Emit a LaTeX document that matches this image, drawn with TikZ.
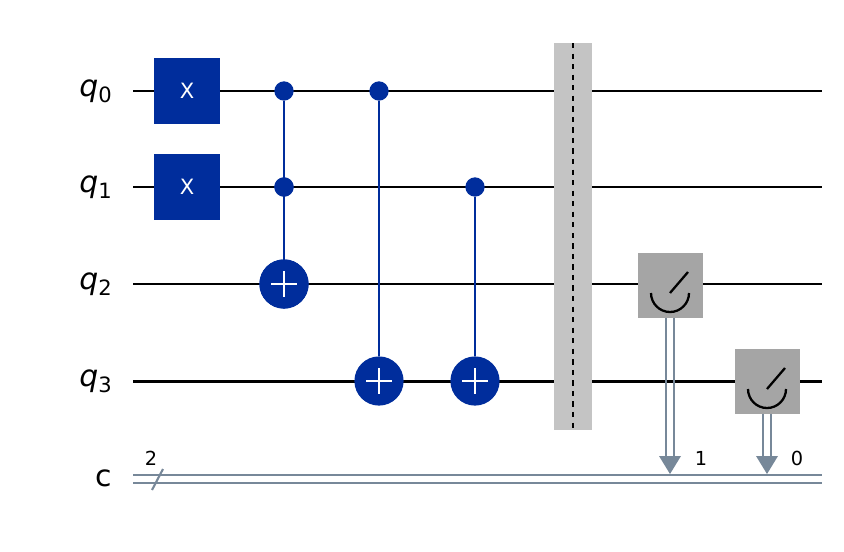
\documentclass[tikz,border=0pt]{standalone}
\usepackage{fontspec}
\setmainfont{DejaVu Sans}
\usetikzlibrary{arrows.meta}
\definecolor{gateblue}{HTML}{002D9C}
\definecolor{barriergray}{HTML}{C4C4C4}
\definecolor{metergray}{HTML}{A5A5A5}
\definecolor{cbitgray}{HTML}{778899}
\tikzset{
  wire/.style={line width=1.7pt},
  gate/.style={fill=gateblue, minimum size=37pt, inner sep=0pt, text=white, font=\fontsize{12}{12}\selectfont},
  ctrl/.style={circle, fill=gateblue, inner sep=0pt, minimum size=11pt},
  targ/.style={circle, fill=gateblue, inner sep=0pt, minimum size=28pt},
  link/.style={gateblue, line width=1.5pt},
  meter/.style={fill=metergray, minimum size=37pt, inner sep=0pt},
  lbl/.style={font=\fontsize{17}{17}\selectfont, anchor=east},
}
\newcommand{\plusmark}[1]{\draw[white, line width=1.5pt] ($(#1)+(-13,0)$) -- ($(#1)+(13,0)$) ($(#1)+(0,-13)$) -- ($(#1)+(0,13)$);}
\newcommand{\metermark}[1]{\draw[black, line width=1.3pt] ($(#1)+(-19,8)$) arc (180:0:19); \draw[black, line width=1.3pt] ($(#1)+(0,8)$) -- ($(#1)+(18,-13)$);}
\usetikzlibrary{calc}
\begin{document}
\begin{tikzpicture}[x=0.02cm, y=-0.02cm]
  \useasboundingbox (0,0) rectangle (844,551);
  % wires and labels
  \foreach \i/\y in {0/91, 1/187, 2/284, 3/381} {
    \node[lbl] at (118,\y) {\textit{q}\raisebox{-0.35ex}{\fontsize{12}{12}\selectfont\i}};
    \draw[wire] (133,\y) -- (822,\y);
  }
  \node[lbl] at (118,478) {c};
  \draw[cbitgray, line width=1.4pt] (133,475) -- (822,475) (133,483) -- (822,483);
  \draw[cbitgray, line width=1.2pt] (152,490) -- (163,469);
  \node[font=\fontsize{11}{11}\selectfont] at (151,458) {2};
  % barrier
  \fill[barriergray] (554,43) rectangle (592,430);
  \draw[dashed, line width=0.9pt] (573,43) -- (573,430);
  % X gates
  \node[gate] (x0) at (187,91) {X};
  \node[gate] (x1) at (187,187) {X};
  % ccx
  \node[ctrl] (c0a) at (284,91) {};
  \node[ctrl] (c1a) at (284,187) {};
  \node[targ] (t2a) at (284,284) {};
  \draw[link] (c0a) -- (t2a.center);
  \node[ctrl] at (284,187) {};
  \node[targ] at (284,284) {};
  \plusmark{t2a}
  % cx q0 -> q3
  \node[ctrl] (c0b) at (379,91) {};
  \node[targ] (t3b) at (379,381) {};
  \draw[link] (c0b) -- (t3b);
  \plusmark{t3b}
  % cx q1 -> q3
  \node[ctrl] (c1c) at (475,187) {};
  \node[targ] (t3c) at (475,381) {};
  \draw[link] (c1c) -- (t3c);
  \plusmark{t3c}
  % measurements
  \node[meter] (m2) at (670,285) {};
  \metermark{m2}
  \node[meter] (m3) at (767,381) {};
  \metermark{m3}
  \coordinate (b1) at (670,474);
  \coordinate (b0) at (767,474);
  \draw[cbitgray, line width=1.3pt] ($(m2.south)+(-4,0)$) -- ($(b1)+(-4,-14)$) ($(m2.south)+(4,0)$) -- ($(b1)+(4,-14)$);
  \draw[cbitgray, line width=1.3pt] ($(m3.south)+(-4,0)$) -- ($(b0)+(-4,-14)$) ($(m3.south)+(4,0)$) -- ($(b0)+(4,-14)$);
  \fill[cbitgray] (b1) -- ++(-11,-18) -- ++(22,0) -- cycle;
  \fill[cbitgray] (b0) -- ++(-11,-18) -- ++(22,0) -- cycle;
  \node[font=\fontsize{11}{11}\selectfont] at (701,458) {1};
  \node[font=\fontsize{11}{11}\selectfont] at (797,458) {0};
\end{tikzpicture}
\end{document}
